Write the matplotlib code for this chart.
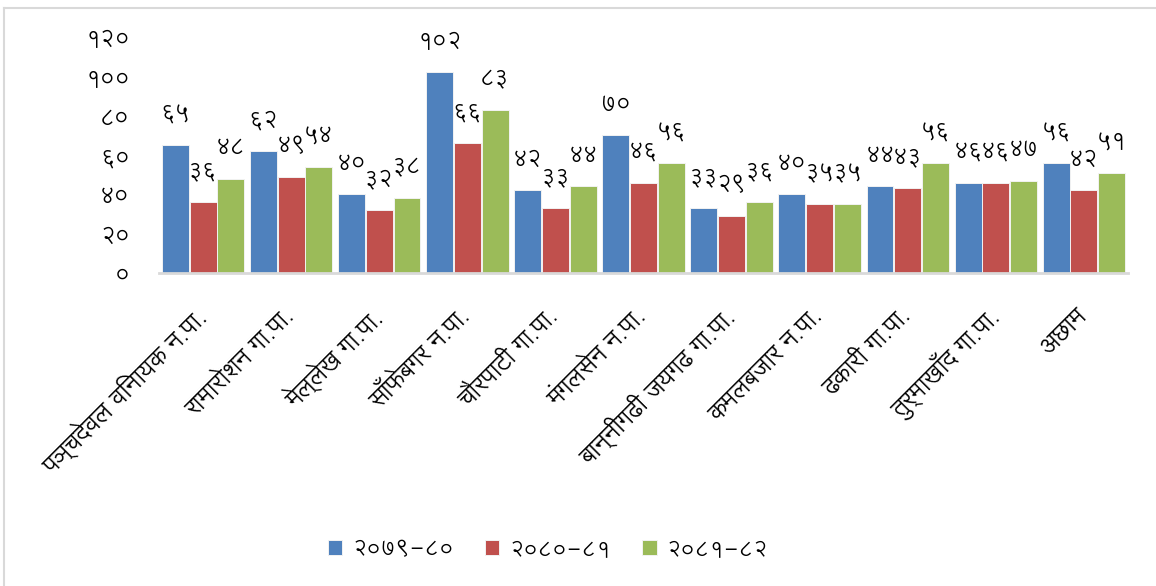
import matplotlib
matplotlib.use("Agg")
import matplotlib.pyplot as plt
import matplotlib.transforms as mtransforms
import numpy as np

categories = ["पञ्चदेवल विनायक न.पा.", "रामारोशन गा.पा.", "मेल्लेख गा.पा.", "साँफेबगर न.पा.",
              "चौरपाटी गा.पा.", "मंगलसेन न.पा.", "बान्नीगढी जयगढ गा.पा.", "कमलबजार न.पा.",
              "ढकारी गा.पा.", "तुर्माखाँद गा.पा.", "अछाम"]
series_names = ["२०७९-८०", "२०८०-८१", "२०८१-८२"]
s2079 = [65, 62, 40, 102, 42, 70, 33, 40, 44, 46, 56]
s2080 = [36, 49, 32, 66, 33, 46, 29, 35, 43, 46, 42]
s2081 = [48, 54, 38, 83, 44, 56, 36, 35, 56, 47, 51]
yticks = [0, 20, 40, 60, 80, 100, 120]


def to_dev(n):
    return str(n).translate(str.maketrans("0123456789", "०१२३४५६७८९"))


fam = ["Lohit Devanagari", "Noto Sans Devanagari", "DejaVu Sans"]
plt.rcParams["font.family"] = fam

colors = ["#4F81BD", "#C0504D", "#9BBB59"]
W, H = 1156, 586
fig = plt.figure(figsize=(W/100, H/100), dpi=100)
ax = fig.add_axes([159/W, 1-273/H, (1128-159)/W, (273-37)/H])
x = np.arange(len(categories))
w = 0.315
for i, (vals, c, nm) in enumerate(zip([s2079, s2080, s2081], colors, series_names)):
    bars = ax.bar(x + (i-1)*w, vals, w*0.97, color=c, label=nm, edgecolor="#f2f2f2", linewidth=0.7)
    for b, v in zip(bars, vals):
        ax.annotate(to_dev(v), (b.get_x()+b.get_width()/2, v), xytext=(0, 22), textcoords="offset points",
                    ha="center", va="center", fontsize=16.5)
ax.set_xlim(-0.5, len(categories)-0.5)
ax.set_ylim(0, 120)
ax.set_yticks(yticks)
ax.set_yticklabels([to_dev(t) for t in yticks], fontsize=16.5)
ax.set_xticks(x)
ax.set_xticklabels(categories, rotation=45, ha="right", va="center", rotation_mode="anchor", fontsize=17.5)
offset = mtransforms.ScaledTranslation(-18/100, 0, fig.dpi_scale_trans)
for lab in ax.get_xticklabels():
    lab.set_transform(lab.get_transform() + offset)
for s in ["top", "right", "left"]:
    ax.spines[s].set_visible(False)
ax.spines["bottom"].set_color("#d9d9d9")
ax.spines["bottom"].set_linewidth(2)
ax.tick_params(axis="y", length=0, pad=21)
ax.tick_params(axis="x", length=0, pad=29)
leg = fig.legend(loc="center", bbox_to_anchor=(548/W, 1-550/H), ncol=3, frameon=False,
                 prop={"size": 16}, handlelength=0.65, handleheight=0.65, handletextpad=0.45,
                 columnspacing=1.4)
fig.add_artist(plt.Line2D([4/W, 1], [1-8/H]*2, color="#d9d9d9", lw=1.5, transform=fig.transFigure))
fig.add_artist(plt.Line2D([4/W]*2, [0, 1-8/H], color="#d9d9d9", lw=1.5, transform=fig.transFigure))
fig.savefig("out.png", dpi=100)
